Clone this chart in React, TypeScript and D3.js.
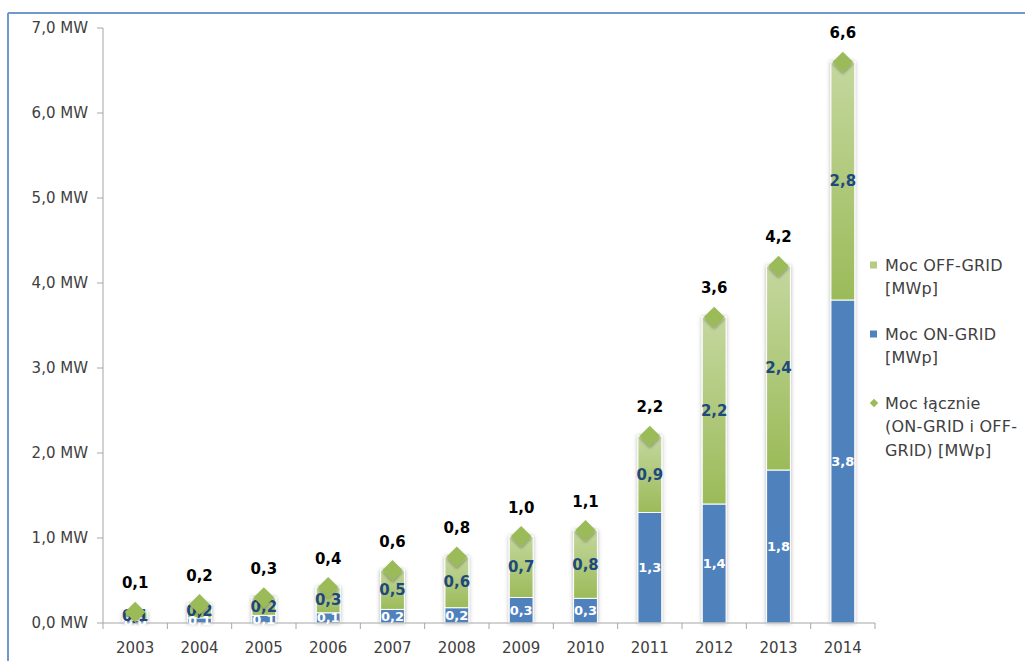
import * as d3 from "d3";

// values (MWp)
const years = ["2003", "2004", "2005", "2006", "2007", "2008", "2009", "2010", "2011", "2012", "2013", "2014"];
const onGrid = [0.03, 0.06, 0.09, 0.12, 0.16, 0.18, 0.3, 0.29, 1.3, 1.4, 1.8, 3.8];
const offGrid = [0.1, 0.16, 0.21, 0.3, 0.46, 0.6, 0.72, 0.8, 0.9, 2.2, 2.4, 2.8];
const yTicks = [0, 1, 2, 3, 4, 5, 6, 7];
const legendItems = [
  { kind: "off", lines: ["Moc OFF-GRID", "[MWp]"] },
  { kind: "on", lines: ["Moc ON-GRID", "[MWp]"] },
  { kind: "total", lines: ["Moc łącznie", "(ON-GRID i OFF-", "GRID) [MWp]"] },
];

const W = 1025;
const H = 661;
const FONT = "'DejaVu Sans', 'Open Sans', sans-serif";
const BLUE = "#4f81bd";
const GREEN = "#9bbb59";
const LABEL_BLUE = "#1f497d";

const fmt = (v: number) => d3.format(".1f")(v).replace(".", ",");

export default function App() {
  const x = d3.scaleBand().domain(years).range([103, 875]).paddingInner(0.63).paddingOuter(0.315);
  const y = d3.scaleLinear().domain([0, 7]).range([623, 28]);
  const bw = x.bandwidth();
  const gap = (x.step() - bw) / 2;
  const diamond = d3.symbol().type(d3.symbolDiamond2).size(270);

  const rows = years.map((yr, i) => ({
    yr,
    on: onGrid[i],
    off: offGrid[i],
    total: onGrid[i] + offGrid[i],
  }));

  return (
    <div style={{ position: "fixed", left: 0, top: 0 }}>
      <svg width={W} height={H} style={{ display: "block", background: "#fff" }}>
        <defs>
          <linearGradient id="offGrad" x1="0" y1="0" x2="0" y2="1">
            <stop offset="0%" stopColor="#c4d79e" />
            <stop offset="100%" stopColor="#9bbb59" />
          </linearGradient>
          <filter id="shadow" x="-50%" y="-20%" width="200%" height="140%">
            <feDropShadow dx="0" dy="0" stdDeviation="2.2" floodColor="#000" floodOpacity="0.3" />
          </filter>
          <filter id="dshadow" x="-50%" y="-50%" width="200%" height="200%">
            <feDropShadow dx="0" dy="2" stdDeviation="1.5" floodColor="#000" floodOpacity="0.3" />
          </filter>
        </defs>

        {/* frame */}
        <line x1={8} x2={W} y1={13} y2={13} stroke="#6f98cc" strokeWidth={2} />
        <line x1={8} x2={8} y1={13} y2={H} stroke="#6f98cc" strokeWidth={2} />

        {/* y axis */}
        <line x1={103} x2={103} y1={y(7)} y2={y(0)} stroke="#a6a6a6" />
        {yTicks.map((t) => (
          <g key={t}>
            <line x1={97} x2={103} y1={y(t)} y2={y(t)} stroke="#a6a6a6" />
            <text x={88} y={y(t)} dy="0.35em" textAnchor="end" fontFamily={FONT} fontSize={15} fill="#404040">
              {fmt(t) + " MW"}
            </text>
          </g>
        ))}

        {/* bars */}
        {rows.map((d) => (
          <g key={d.yr} filter="url(#shadow)">
            <rect x={x(d.yr)} y={y(d.on)} width={bw} height={y(0) - y(d.on)} fill={BLUE} stroke="#fff" strokeWidth={1} />
            <rect
              x={x(d.yr)}
              y={y(d.total)}
              width={bw}
              height={y(d.on) - y(d.total)}
              fill="url(#offGrad)"
              stroke="#fff"
              strokeWidth={1}
            />
          </g>
        ))}

        {/* x axis */}
        <line x1={103} x2={875} y1={y(0)} y2={y(0)} stroke="#a6a6a6" />
        {years.concat(["end"]).map((yr, i) => {
          const bx = i < years.length ? (x(yr) as number) - gap : (x(years[years.length - 1]) as number) + bw + gap;
          return <line key={yr} x1={bx} x2={bx} y1={y(0)} y2={y(0) + 6} stroke="#a6a6a6" />;
        })}
        {years.map((yr) => (
          <text key={yr} x={(x(yr) as number) + bw / 2} y={648} dy="0.35em" textAnchor="middle" fontFamily={FONT} fontSize={15} fill="#404040">
            {yr}
          </text>
        ))}

        {/* segment labels */}
        {rows.map((d) => (
          <g key={d.yr} fontFamily={FONT} textAnchor="middle">
            <text x={(x(d.yr) as number) + bw / 2} y={y(d.on / 2)} dy="0.35em" fontSize={13} fill="#fff" fontWeight={600}>
              {fmt(d.on)}
            </text>
            <text x={(x(d.yr) as number) + bw / 2} y={y(d.on + d.off / 2)} dy="0.35em" fontSize={15} fill={LABEL_BLUE} fontWeight={700}>
              {fmt(d.off)}
            </text>
          </g>
        ))}

        {/* totals */}
        {rows.map((d) => {
          const cx = (x(d.yr) as number) + bw / 2;
          return (
            <g key={d.yr}>
              <path d={diamond() as string} transform={`translate(${cx},${y(d.total)})`} fill={GREEN} filter="url(#dshadow)" />
              <text x={cx} y={y(d.total) - 29} dy="0.35em" textAnchor="middle" fontFamily={FONT} fontSize={15} fontWeight={700} fill="#000">
                {fmt(d.total)}
              </text>
            </g>
          );
        })}

        {/* legend */}
        {legendItems.map((it, i) => {
          const ty = [265, 334, 403][i];
          return (
            <g key={it.kind} fontFamily={FONT} fontSize={16} fill="#404040" letterSpacing={0.2}>
              {it.kind === "total" ? (
                <path d={d3.symbol().type(d3.symbolDiamond2).size(45)() as string} transform={`translate(874,${ty})`} fill={GREEN} />
              ) : (
                <rect x={870} y={ty - 3.5} width={7} height={7} fill={it.kind === "off" ? "#b5cc82" : BLUE} />
              )}
              {it.lines.map((ln, j) => (
                <text key={j} x={885} y={ty + j * 23.5} dy="0.35em">
                  {ln}
                </text>
              ))}
            </g>
          );
        })}
      </svg>
    </div>
  );
}
